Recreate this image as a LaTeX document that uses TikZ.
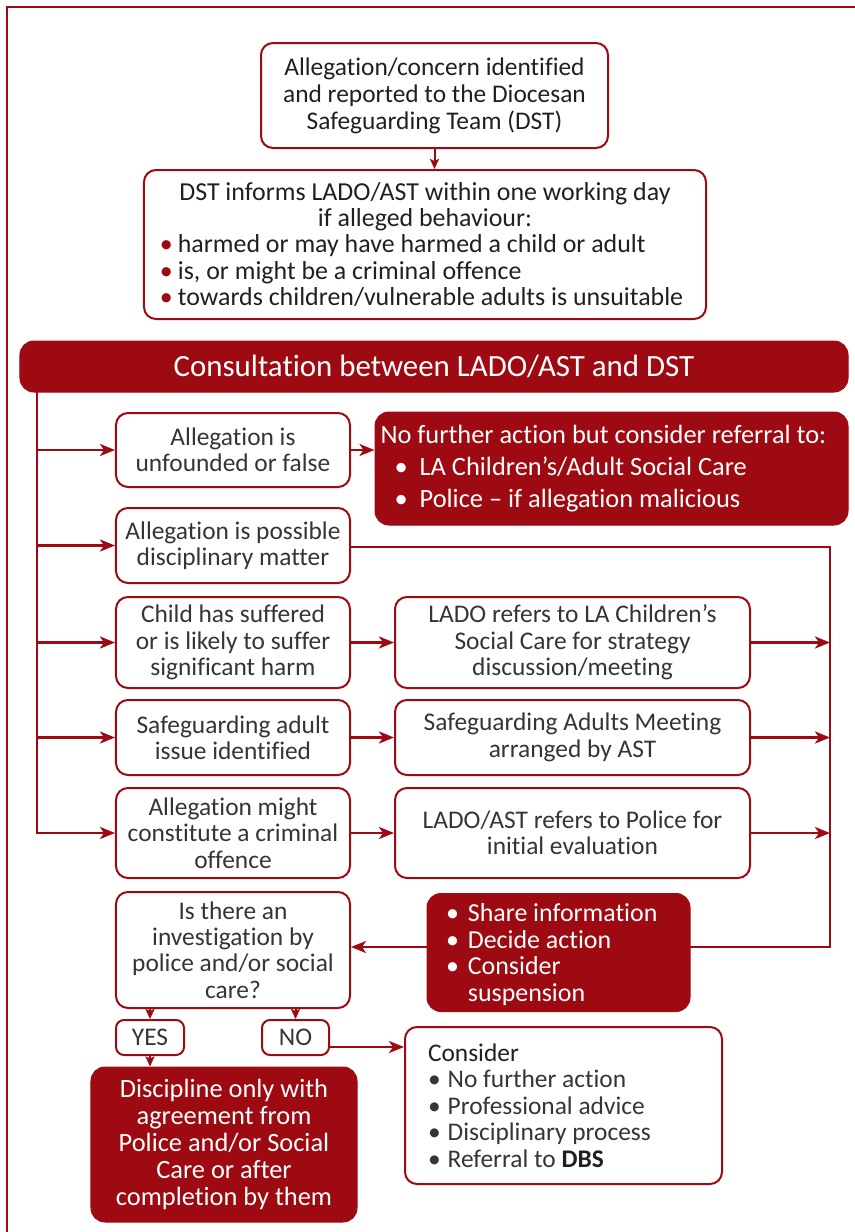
\documentclass[tikz,border=0pt]{standalone}
\usepackage{fontspec}
\setmainfont{Carlito}[Ligatures=NoCommon]
\usetikzlibrary{arrows.meta}
\definecolor{dred}{RGB}{158,10,18}
\definecolor{txt}{RGB}{35,31,32}
\definecolor{txtl}{RGB}{55,52,53}
\newcommand{\bul}{\textbullet\hspace{7bp}}
\newcommand{\rbul}{{\color{dred}\textbullet}\hspace{5bp}}
\begin{document}
\begin{tikzpicture}[x=1bp,y=-1bp,
 wbox/.style={draw=dred, line width=2bp, rounded corners=12bp, fill=white, inner sep=0pt, align=center, text=txtl, font=\fontsize{25.5}{26.5}\selectfont},
 rbox/.style={draw=dred, fill=dred, line width=1bp, rounded corners=14bp, inner sep=0pt, text=white, font=\fontsize{26}{26.5}\selectfont},
 conn/.style={draw=dred, line width=2.5bp},
 arr/.style={conn, -{Stealth[length=15bp,width=12bp,inset=4bp]}},
 sarr/.style={draw=dred, line width=2bp, -{Stealth[length=10bp,width=9bp,inset=2bp]}},
 ]
\useasboundingbox (0,0) rectangle (855,1232);
\draw[dred, line width=2bp] (7,1240) -- (7,7) -- (860,7);

% top boxes
\node[wbox, text=txt, minimum width=347bp, minimum height=105bp, font=\fontsize{25.5}{27}\selectfont] (b1) at (434.5,95.5)
 {Allegation/concern identified\\and reported to the Diocesan\\Safeguarding Team (DST)};
\node[wbox, text=txt, minimum width=562bp, minimum height=149bp, align=left, font=\fontsize{26}{26.5}\selectfont] (b2) at (425,244.5)
 {\makebox[530bp][c]{DST informs LADO/AST within one working day}\\
  \makebox[530bp][c]{if alleged behaviour:}\\
  \rbul harmed or may have harmed a child or adult\\
  \rbul is, or might be a criminal offence\\
  \rbul towards children/vulnerable adults is unsuitable};
\draw[sarr] (b1.south) -- (b1.south |- b2.north);

\node[rbox, minimum width=828bp, minimum height=51bp, font=\fontsize{31}{32}\selectfont] (cons) at (434,366.5)
 {Consultation between LADO/AST and DST};

% left column
\node[wbox, minimum width=234bp, minimum height=74bp] (l1) at (233,450) {Allegation is\\unfounded or false};
\node[wbox, minimum width=234bp, minimum height=75bp] (l2) at (233,545.5) {Allegation is possible\\disciplinary matter};
\node[wbox, minimum width=234bp, minimum height=91bp] (l3) at (233,642.5) {Child has suffered\\or is likely to suffer\\significant harm};
\node[wbox, minimum width=234bp, minimum height=75bp] (l4) at (233,737.5) {Safeguarding adult\\issue identified};
\node[wbox, minimum width=234bp, minimum height=90bp] (l5) at (233,833) {Allegation might\\constitute a criminal\\offence};
\node[wbox, minimum width=234bp, minimum height=116bp] (l6) at (233,950) {Is there an\\investigation by\\police and/or social\\care?};

% middle column
\node[rbox, minimum width=473bp, minimum height=113bp, align=left, font=\fontsize{26.5}{32}\selectfont] (nfa) at (611.5,468.5)
 {\makebox[462bp][l]{No further action but consider referral to:}\\
  \hspace{14bp}\textbullet\hspace{12bp}LA Children’s/Adult Social Care\\
  \hspace{14bp}\textbullet\hspace{12bp}Police – if allegation malicious};
\node[wbox, minimum width=355bp, minimum height=91bp] (m3) at (572.5,642.5) {LADO refers to LA Children’s\\Social Care for strategy\\discussion/meeting};
\node[wbox, minimum width=355bp, minimum height=75bp] (m4) at (572.5,737.5) {Safeguarding Adults Meeting\\arranged by AST};
\node[wbox, minimum width=355bp, minimum height=90bp] (m5) at (572.5,833) {LADO/AST refers to Police for\\initial evaluation};

% spine
\coordinate (sTop) at (37,392);
\coordinate (rx) at (830,0);
\draw[arr] (sTop) |- (l5.west);
\draw[arr] (l1.west -| sTop) -- (l1.west);
\draw[arr] (l2.west -| sTop) -- (l2.west);
\draw[arr] (l3.west -| sTop) -- (l3.west);
\draw[arr] (l4.west -| sTop) -- (l4.west);
\draw[arr] (l1.east) -- (l1.east -| nfa.west);
\draw[arr] (l3.east) -- (m3.west);
\draw[arr] (l4.east) -- (m4.west);
\draw[arr] (l5.east) -- (m5.west);
\draw[arr] ([yshift=-1.5bp]l2.east) -| ([yshift=3bp]rx |- l6.east) -- ([yshift=3bp]l6.east);
\draw[arr] (m3.east) -- (m3.east -| rx);
\draw[arr] (m4.east) -- (m4.east -| rx);
\draw[arr] (m5.east) -- (m5.east -| rx);

\node[rbox, minimum width=263bp, minimum height=118bp, align=left, text depth=0pt] (share) at (558.5,952.5)
 {\makebox[225bp][l]{\textbullet\hspace{9bp}Share information}\\
  \textbullet\hspace{9bp}Decide action\\
  \textbullet\hspace{9bp}Consider\\
  \hphantom{\textbullet\hspace{9bp}}suspension};

% bottom
\node[wbox, minimum width=68bp, minimum height=35bp, rounded corners=8bp] (yes) at (150,1037.5) {YES};
\node[wbox, minimum width=67bp, minimum height=35bp, rounded corners=8bp] (no) at (295.5,1037.5) {NO};
\draw[sarr] (yes.north |- l6.south) -- (yes.north);
\draw[sarr] (no.north |- l6.south) -- (no.north);
\node[rbox, minimum width=266bp, minimum height=155bp, align=center, font=\fontsize{26.5}{27}\selectfont] (disc) at (224,1144.5)
 {Discipline only with\\agreement from\\Police and/or Social\\Care or after\\completion by them};
\draw[sarr] (yes.south) -- (yes.south |- disc.north);
\node[wbox, minimum width=317bp, minimum height=157bp, align=left] (c2) at (563.5,1105.5)
 {\makebox[271bp][l]{\color{txt}Consider}\\
  \bul No further action\\
  \bul Professional advice\\
  \bul Disciplinary process\\
  \bul Referral to {\color{txt}\bfseries DBS}};
\draw[arr] ([yshift=-9.5bp]no.east) coordinate (na) -- (na -| c2.west);
\end{tikzpicture}
\end{document}
